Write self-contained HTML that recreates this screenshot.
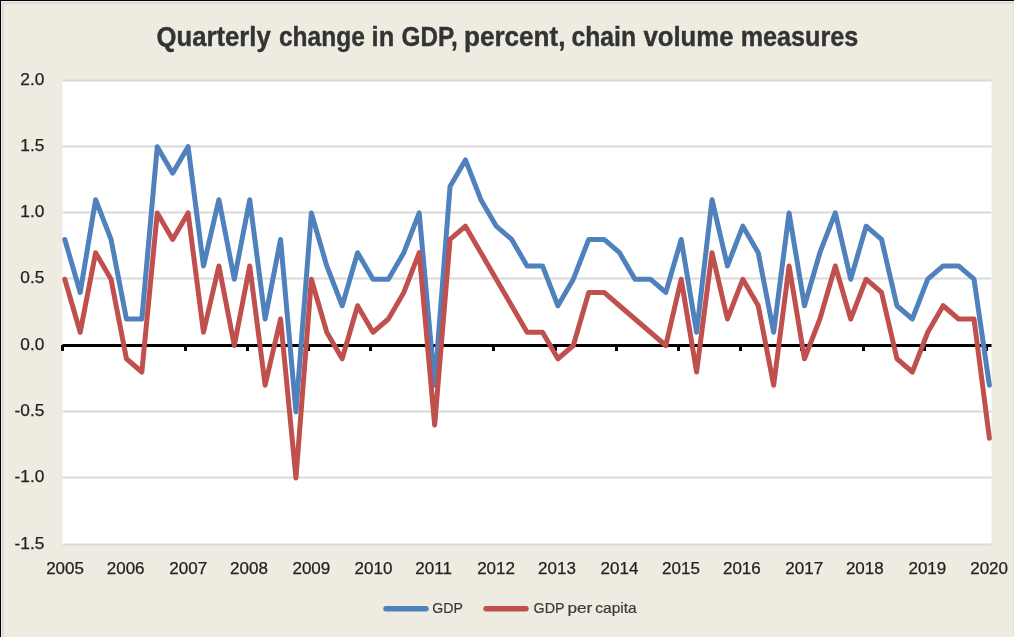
<!DOCTYPE html>
<html><head><meta charset="utf-8"><style>
html,body{margin:0;padding:0;width:1014px;height:637px;overflow:hidden;background:#EEECE1}
svg{display:block;font-family:"Liberation Sans",sans-serif;will-change:transform}
</style></head><body>
<svg width="1014" height="637" viewBox="0 0 1014 637">
<rect x="0" y="0" width="1014" height="637" fill="#EEECE1"/>
<rect x="0" y="0" width="1014" height="1" fill="#000"/>
<rect x="0" y="0" width="1" height="637" fill="#000"/>
<rect x="1" y="1" width="1013" height="1" fill="#ececec"/>
<rect x="1" y="1" width="1" height="636" fill="#ececec"/>
<rect x="2" y="2" width="1012" height="2" fill="#dadada"/>
<rect x="2" y="2" width="2" height="635" fill="#dadada"/>
<rect x="1013" y="2" width="1" height="635" fill="#e2e1dc"/>
<rect x="62.5" y="80.5" width="929.0" height="464" fill="#fff"/>
<g stroke="#d9d9d9" stroke-width="2"><line x1="62.5" x2="991.5" y1="80.5" y2="80.5"/><line x1="62.5" x2="991.5" y1="146.5" y2="146.5"/><line x1="62.5" x2="991.5" y1="212.5" y2="212.5"/><line x1="62.5" x2="991.5" y1="278.5" y2="278.5"/><line x1="62.5" x2="991.5" y1="411.5" y2="411.5"/><line x1="62.5" x2="991.5" y1="477.5" y2="477.5"/><line x1="62.5" x2="991.5" y1="544.5" y2="544.5"/></g>
<g stroke="#000" stroke-width="3">
<line x1="62.5" x2="991.5" y1="345.5" y2="345.5"/>
</g>
<g stroke="#000" stroke-width="3"><line x1="62.5" x2="62.5" y1="345" y2="351"/><line x1="124.5" x2="124.5" y1="345" y2="351"/><line x1="185.5" x2="185.5" y1="345" y2="351"/><line x1="247.5" x2="247.5" y1="345" y2="351"/><line x1="308.5" x2="308.5" y1="345" y2="351"/><line x1="370.5" x2="370.5" y1="345" y2="351"/><line x1="432.5" x2="432.5" y1="345" y2="351"/><line x1="493.5" x2="493.5" y1="345" y2="351"/><line x1="555.5" x2="555.5" y1="345" y2="351"/><line x1="616.5" x2="616.5" y1="345" y2="351"/><line x1="678.5" x2="678.5" y1="345" y2="351"/><line x1="740.5" x2="740.5" y1="345" y2="351"/><line x1="801.5" x2="801.5" y1="345" y2="351"/><line x1="863.5" x2="863.5" y1="345" y2="351"/><line x1="924.5" x2="924.5" y1="345" y2="351"/><line x1="986.5" x2="986.5" y1="345" y2="351"/></g>
<polyline fill="none" stroke="#4F81BD" stroke-width="5" stroke-linejoin="round" stroke-linecap="round" points="64.80,239.44 80.21,292.47 95.62,199.67 111.03,239.44 126.44,318.99 141.85,318.99 157.26,146.65 172.67,173.16 188.08,146.65 203.49,265.96 218.90,199.67 234.31,279.22 249.72,199.67 265.13,318.99 280.54,239.44 295.95,411.78 311.36,212.93 326.77,265.96 342.18,305.73 357.59,252.70 373.00,279.22 388.41,279.22 403.82,252.70 419.23,212.93 434.64,385.27 450.05,186.42 465.46,159.90 480.87,199.67 496.28,226.19 511.69,239.44 527.10,265.96 542.51,265.96 557.92,305.73 573.33,279.22 588.74,239.44 604.15,239.44 619.56,252.70 634.97,279.22 650.38,279.22 665.79,292.47 681.20,239.44 696.61,332.24 712.02,199.67 727.43,265.96 742.84,226.19 758.25,252.70 773.66,332.24 789.07,212.93 804.48,305.73 819.89,252.70 835.30,212.93 850.71,279.22 866.12,226.19 881.53,239.44 896.94,305.73 912.35,318.99 927.76,279.22 943.17,265.96 958.58,265.96 973.99,279.22 989.40,385.27"/>
<polyline fill="none" stroke="#C0504D" stroke-width="5" stroke-linejoin="round" stroke-linecap="round" points="64.80,279.22 80.21,332.24 95.62,252.70 111.03,279.22 126.44,358.76 141.85,372.01 157.26,212.93 172.67,239.44 188.08,212.93 203.49,332.24 218.90,265.96 234.31,345.50 249.72,265.96 265.13,385.27 280.54,318.99 295.95,478.07 311.36,279.22 326.77,332.24 342.18,358.76 357.59,305.73 373.00,332.24 388.41,318.99 403.82,292.47 419.23,252.70 434.64,425.04 450.05,239.44 465.46,226.19 480.87,252.70 496.28,279.22 511.69,305.73 527.10,332.24 542.51,332.24 557.92,358.76 573.33,345.50 588.74,292.47 604.15,292.47 619.56,305.73 634.97,318.99 650.38,332.24 665.79,345.50 681.20,279.22 696.61,372.01 712.02,252.70 727.43,318.99 742.84,279.22 758.25,305.73 773.66,385.27 789.07,265.96 804.48,358.76 819.89,318.99 835.30,265.96 850.71,318.99 866.12,279.22 881.53,292.47 896.94,358.76 912.35,372.01 927.76,332.24 943.17,305.73 958.58,318.99 973.99,318.99 989.40,438.30"/>
<g fill="#222" stroke="#222" stroke-width="0.25" font-size="17.3" text-anchor="end"><text x="44.3" y="84.90">2.0</text><text x="44.3" y="150.90">1.5</text><text x="44.3" y="216.90">1.0</text><text x="44.3" y="282.90">0.5</text><text x="44.3" y="349.90">0.0</text><text x="44.3" y="415.90">-0.5</text><text x="44.3" y="481.90">-1.0</text><text x="44.3" y="548.90">-1.5</text></g>
<g fill="#222" stroke="#222" stroke-width="0.25" font-size="17" text-anchor="middle"><text x="65.05" y="574">2005</text><text x="125.64" y="574">2006</text><text x="188.18" y="574">2007</text><text x="249.02" y="574">2008</text><text x="311.36" y="574">2009</text><text x="373.50" y="574">2010</text><text x="433.64" y="574">2011</text><text x="496.08" y="574">2012</text><text x="557.02" y="574">2013</text><text x="619.46" y="574">2014</text><text x="681.00" y="574">2015</text><text x="741.84" y="574">2016</text><text x="804.18" y="574">2017</text><text x="864.82" y="574">2018</text><text x="927.36" y="574">2019</text><text x="989.10" y="574">2020</text></g>
<g fill="#333" stroke="#333" stroke-width="0.4" font-size="27" font-weight="bold"><text x="156.55" y="45.8" textLength="114.21" lengthAdjust="spacingAndGlyphs">Quarterly</text><text x="278.99" y="45.8" textLength="85.79" lengthAdjust="spacingAndGlyphs">change</text><text x="371.61" y="45.8" textLength="22.63" lengthAdjust="spacingAndGlyphs">in</text><text x="401.60" y="45.8" textLength="56.17" lengthAdjust="spacingAndGlyphs">GDP,</text><text x="463.97" y="45.8" textLength="101.55" lengthAdjust="spacingAndGlyphs">percent,</text><text x="571.49" y="45.8" textLength="64.52" lengthAdjust="spacingAndGlyphs">chain</text><text x="643.40" y="45.8" textLength="90.11" lengthAdjust="spacingAndGlyphs">volume</text><text x="740.67" y="45.8" textLength="117.65" lengthAdjust="spacingAndGlyphs">measures</text></g>
<line x1="386" x2="426" y1="608.8" y2="608.8" stroke="#4F81BD" stroke-width="5.4" stroke-linecap="round"/>
<g fill="#3a3a3a" stroke="#3a3a3a" stroke-width="0.2" font-size="14.8"><text x="432.25" y="612.8" textLength="30.58" lengthAdjust="spacingAndGlyphs">GDP</text><text x="533.53" y="612.8" textLength="31.01" lengthAdjust="spacingAndGlyphs">GDP</text><text x="567.44" y="612.8" textLength="24.81" lengthAdjust="spacingAndGlyphs">per</text><text x="595.25" y="612.8" textLength="41.42" lengthAdjust="spacingAndGlyphs">capita</text></g>
<line x1="486" x2="526" y1="608.7" y2="608.7" stroke="#C0504D" stroke-width="5.4" stroke-linecap="round"/>

</svg>
</body></html>
